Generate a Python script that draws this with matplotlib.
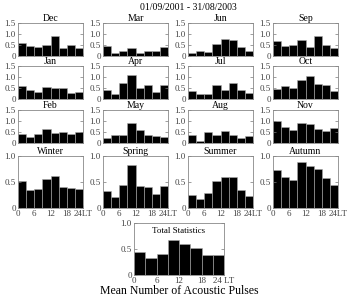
import matplotlib.pyplot as plt
import numpy as np

plt.rcParams['font.family'] = ['Liberation Serif', 'DejaVu Serif']

# mean number of pulses per 3-hour LT bin
hours = [0, 3, 6, 9, 12, 15, 18, 21]

months = {
    'Dec': [0.60, 0.45, 0.43, 0.52, 0.92, 0.35, 0.50, 0.37],
    'Mar': [0.45, 0.12, 0.22, 0.38, 0.15, 0.22, 0.22, 0.42],
    'Jun': [0.15, 0.25, 0.20, 0.55, 0.78, 0.75, 0.42, 0.22],
    'Sep': [0.70, 0.45, 0.48, 0.75, 0.40, 0.92, 0.52, 0.35],
    'Jan': [0.60, 0.40, 0.32, 0.55, 0.50, 0.48, 0.28, 0.30],
    'Apr': [0.40, 0.25, 0.75, 1.10, 0.50, 0.62, 0.30, 0.62],
    'Jul': [0.35, 0.25, 0.25, 0.65, 0.42, 0.72, 0.42, 0.27],
    'Oct': [0.45, 0.58, 0.52, 0.88, 1.05, 0.70, 0.62, 0.35],
    'Feb': [0.40, 0.28, 0.42, 0.62, 0.45, 0.48, 0.42, 0.48],
    'May': [0.22, 0.35, 0.35, 0.90, 0.58, 0.35, 0.32, 0.28],
    'Aug': [0.35, 0.10, 0.50, 0.35, 0.55, 0.35, 0.25, 0.30],
    'Nov': [1.02, 0.75, 0.60, 0.90, 0.85, 0.62, 0.55, 0.68],
}
seasons = {
    'Winter': [0.52, 0.35, 0.36, 0.55, 0.61, 0.41, 0.38, 0.36],
    'Spring': [0.32, 0.22, 0.44, 0.82, 0.42, 0.40, 0.26, 0.43],
    'Summer': [0.25, 0.18, 0.28, 0.52, 0.60, 0.60, 0.34, 0.24],
    'Autumn': [0.73, 0.59, 0.53, 0.88, 0.80, 0.75, 0.57, 0.45],
}
total = [0.45, 0.33, 0.40, 0.67, 0.59, 0.52, 0.39, 0.38]

W, H = 355, 299
fig = plt.figure(figsize=(W / 100, H / 100), dpi=100)

col_left = [18, 103, 188, 273]
row_top = [23, 66, 110]


def ax_at(x0, y0, w, h):
    return fig.add_axes([x0 / W, 1 - (y0 + h) / H, w / W, h / H])


def style(ax, ymax, yticks, ylabels):
    ax.set_xlim(0, 24)
    ax.set_ylim(0, ymax)
    ax.set_yticks(yticks)
    ax.set_yticklabels(ylabels, fontsize=6.5)
    ax.set_xticks([0, 6, 12, 18, 24])
    ax.tick_params(direction='in', length=2, width=0.5, pad=1.5,
                   left=True, right=True, top=False, bottom=True, colors='#777777',
                   labelcolor='#444444')
    for s in ax.spines.values():
        s.set_color('#888888')
        s.set_linewidth(0.6)


def bars(ax, vals):
    ax.bar(hours, vals, width=3, align='edge', color='black',
           edgecolor='#aaaaaa', linewidth=0.4)


names = list(months.keys())
for i, name in enumerate(names):
    r, c = divmod(i, 4)
    ax = ax_at(col_left[c], row_top[r], 65, 33)
    bars(ax, months[name])
    style(ax, 1.5, [0, 0.5, 1.0, 1.5], ['0', '0.5', '1.0', '1.5'])
    ax.set_xticklabels([])
    ax.set_title(name, fontsize=7, pad=0.5)

for c, name in enumerate(seasons):
    ax = ax_at(col_left[c], 156, 65, 52)
    bars(ax, seasons[name])
    style(ax, 1.0, [0, 0.5, 1.0], ['0', '0.5', '1.0'])
    ax.set_xticklabels(['0', '6', '12', '18', '24LT'], fontsize=6.5)
    ax.set_title(name, fontsize=7, pad=0.5)

ax = ax_at(134, 223, 90, 52)
bars(ax, total)
style(ax, 1.0, [0, 0.5, 1.0], ['0', '0.5', '1.0'])
ax.set_xticklabels(['0', '6', '12', '18', '24 LT'], fontsize=6.5)
ax.text(0.5, 0.93, 'Total Statistics', transform=ax.transAxes,
        ha='center', va='top', fontsize=6.5)
ax.set_xlabel('Mean Number of Acoustic Pulses', fontsize=8.5, labelpad=0)

fig.text(188 / W, 1 - 8 / H, '01/09/2001 - 31/08/2003', ha='center', va='center',
         fontsize=7)

fig.savefig('out.png', dpi=100)
